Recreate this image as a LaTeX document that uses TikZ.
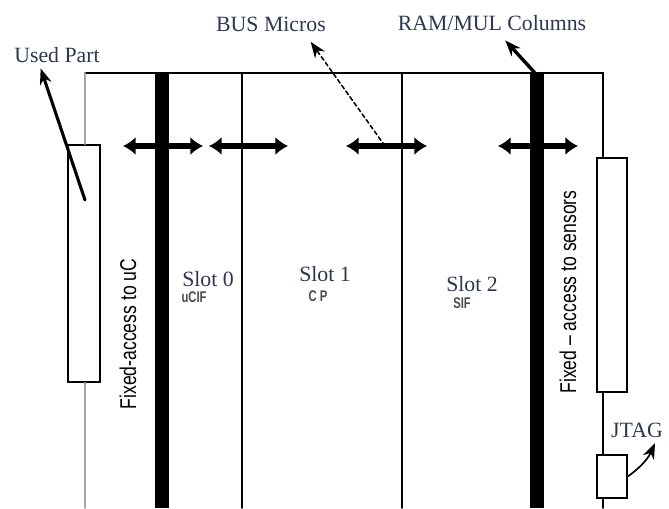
\documentclass[tikz,border=0pt]{standalone}
\usepackage{fontspec}
\setmainfont{Liberation Serif}
\setsansfont{Liberation Sans}
\usetikzlibrary{arrows.meta,positioning}
\definecolor{labelc}{RGB}{45,55,80}

\begin{document}
\begin{tikzpicture}[x=0.025cm,y=-0.025cm,>={Stealth[length=4mm,width=3mm]},line cap=round,
  thinline/.style={line width=1.1pt},
  colbar/.style={line width=10pt,line cap=butt},
  busarrow/.style={line width=4pt,line cap=butt,{Latex[length=9pt,width=13pt]}-{Latex[length=9pt,width=13pt]}},
  callout/.style={font=\fontsize{15.5}{16}\selectfont,text=labelc,inner sep=1pt},
  sublabel/.style={font=\sffamily\bfseries\fontsize{10}{10}\selectfont,text=black!70,inner sep=1pt},
  sidelabel/.style={font=\sffamily\fontsize{12.5}{13}\selectfont,rotate=90,inner sep=1pt},
  partbox/.style={draw,thinline,fill=white}]

\useasboundingbox (0,0) rectangle (669,508);

% frame and columns
\coordinate (tl) at (85,73);
\coordinate (tr) at (603,73);
\draw[colbar] (162,73) -- (162,508);
\draw[colbar] (537,73) -- (537,508);
\draw[thinline] (242,73) -- (242,508);
\draw[thinline] (402,73) -- (402,508);

% side boxes
\node[partbox,minimum width=0.8cm,minimum height=5.925cm] (usedbox) at (84,263.5) {};
\node[partbox,minimum width=0.75cm,minimum height=5.85cm] (sensbox) at (612,275) {};
\node[partbox,minimum width=0.75cm,minimum height=1.075cm] (jtagbox) at (612,476.5) {};

\draw[thinline] (tl) -- (tr) -- (tr |- sensbox.north);
\draw[thinline,black!35] (tl) -- (tl |- usedbox.north);
\draw[thinline,black!35] (tl |- usedbox.south) -- (85,508);
\draw[thinline] (tr |- sensbox.south) -- (tr |- jtagbox.north);
\draw[thinline] (tr |- jtagbox.south) -- (603,508);

% bus arrows
\coordinate (b0l) at (123,146); \coordinate (b0r) at (203,146);
\coordinate (b1l) at (209,146); \coordinate (b1r) at (288,146);
\coordinate (b2l) at (346,146); \coordinate (b2r) at (427,146);
\coordinate (b3l) at (498,146); \coordinate (b3r) at (578,146);
\draw[busarrow] (b0l) -- (b0r);
\draw[busarrow] (b1l) -- (b1r);
\draw[busarrow] (b2l) -- (b2r);
\draw[busarrow] (b3l) -- (b3r);

% slot labels
\node[callout] (slot0) at (208,279) {Slot 0};
\node[sublabel] (cif0) at (194,297) {\scalebox{0.8}[1.1]{uCIF}};
\node[callout] (slot1) at (325,274) {Slot 1};
\node[sublabel] (cif1) at (318,296) {\scalebox{0.8}[1.1]{C P}};
\node[callout] (slot2) at (472,284) {Slot 2};
\node[sublabel] (cif2) at (462,303) {\scalebox{0.8}[1.1]{SIF}};

\node[sidelabel] (fixuc) at (128,334) {\scalebox{1}[1.3]{Fixed-access to uC}};
\node[sidelabel] (fixsens) at (568,292) {\scalebox{1}[1.3]{Fixed -- access to sensors}};

% callouts
\node[callout] (used) at (57,55) {Used Part};
\node[callout] (busm) at (271,24) {BUS Micros};
\node[callout] (ramm) at (492,23) {RAM/MUL Columns};
\node[callout] (jtag) at (637,430) {JTAG};

\coordinate (usedtail) at (85,200);
\coordinate (bustail) at (385,146);
\coordinate (ramtail) at (535,73);
\draw[->,line width=2.2pt] (usedtail) -- ([xshift=0.7cm,yshift=-0.1cm]used.south west);
\draw[->,thinline,densely dashed] (bustail) -- ([xshift=-0.42cm,yshift=-0.22cm]busm.south east);
\draw[->,line width=2.4pt] (ramtail) -- ([xshift=0.33cm,yshift=-0.2cm]ramm.south);
\draw[->,line width=1.2pt] (jtagbox.east) to[bend right=15] ([xshift=0.45cm,yshift=-0.1cm]jtag.south);
\end{tikzpicture}
\end{document}
